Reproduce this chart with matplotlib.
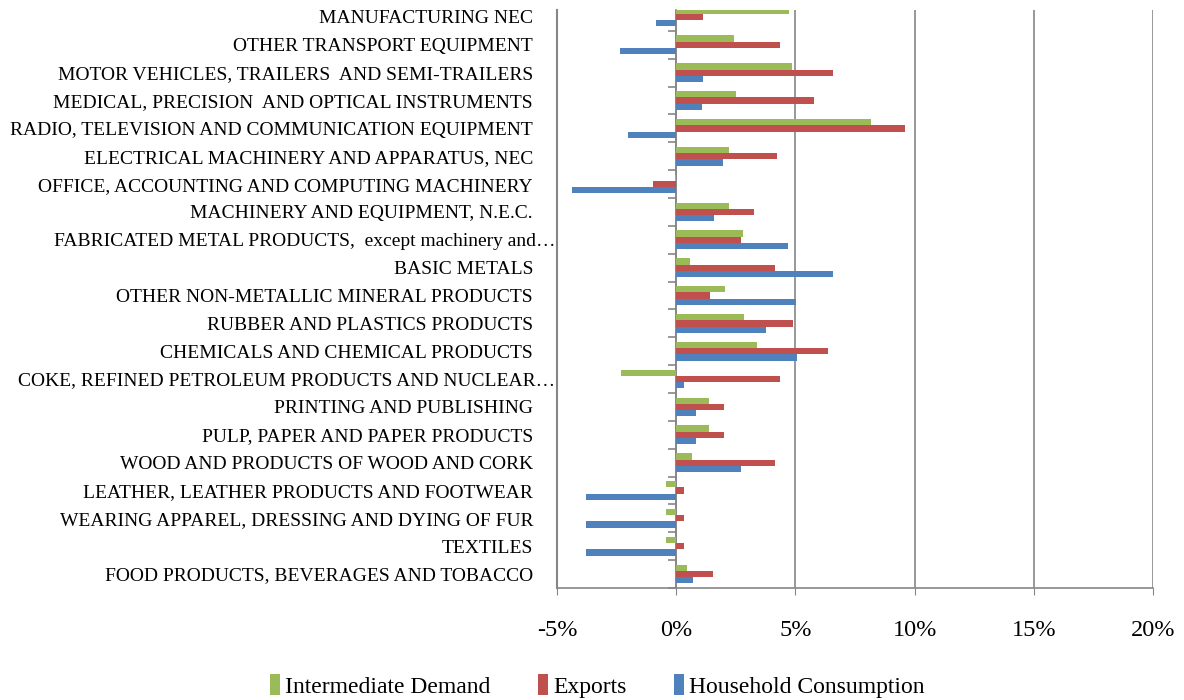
import numpy as np
import matplotlib
matplotlib.use("Agg")
import matplotlib.pyplot as plt
import matplotlib.transforms as mtransforms
from matplotlib.ticker import FuncFormatter
from matplotlib.patches import Patch

# Sectors, listed top to bottom as in the chart
sectors = [
    "MANUFACTURING NEC",
    "OTHER TRANSPORT EQUIPMENT",
    "MOTOR VEHICLES, TRAILERS  AND SEMI-TRAILERS",
    "MEDICAL, PRECISION  AND OPTICAL INSTRUMENTS",
    "RADIO, TELEVISION AND COMMUNICATION EQUIPMENT",
    "ELECTRICAL MACHINERY AND APPARATUS, NEC",
    "OFFICE, ACCOUNTING AND COMPUTING MACHINERY",
    "MACHINERY AND EQUIPMENT, N.E.C.",
    "FABRICATED METAL PRODUCTS,  except machinery and\u2026",
    "BASIC METALS",
    "OTHER NON-METALLIC MINERAL PRODUCTS",
    "RUBBER AND PLASTICS PRODUCTS",
    "CHEMICALS AND CHEMICAL PRODUCTS",
    "COKE, REFINED PETROLEUM PRODUCTS AND NUCLEAR\u2026",
    "PRINTING AND PUBLISHING",
    "PULP, PAPER AND PAPER PRODUCTS",
    "WOOD AND PRODUCTS OF WOOD AND CORK",
    "LEATHER, LEATHER PRODUCTS AND FOOTWEAR",
    "WEARING APPAREL, DRESSING AND DYING OF FUR",
    "TEXTILES",
    "FOOD PRODUCTS, BEVERAGES AND TOBACCO",
]

# values in percent
intermediate = [4.75, 2.41, 4.86, 2.49, 8.18, 2.20, -0.06, 2.20, 2.79, 0.57, 2.06,
                2.83, 3.37, -2.31, 1.36, 1.36, 0.65, -0.43, -0.43, -0.43, 0.45]
exports = [1.11, 4.37, 6.59, 5.79, 9.61, 4.21, -0.97, 3.27, 2.70, 4.16, 1.41,
           4.90, 6.38, 4.37, 1.99, 1.99, 4.16, 0.33, 0.33, 0.33, 1.53]
household = [-0.85, -2.37, 1.11, 1.07, -2.02, 1.95, -4.37, 1.57, 4.67, 6.59, 5.01,
             3.75, 5.08, 0.33, 0.82, 0.82, 2.70, -3.77, -3.77, -3.77, 0.70]

series_names = ["Intermediate Demand", "Exports", "Household Consumption"]
colors = ["#9BBB59", "#C0504D", "#4F81BD"]
grid_color = "#868686"

plt.rcParams['font.family'] = ['Liberation Serif', 'DejaVu Serif']

fig = plt.figure(figsize=(11.84, 7.0), dpi=100)
ax = fig.add_axes([557 / 1184, 1 - 588 / 700, (1153 - 557) / 1184, (588 - 10) / 700])

n = len(sectors)
y = np.arange(n)[::-1]  # top sector gets the highest position
h = 0.225

ax.barh(y + h, intermediate, height=h, color=colors[0], zorder=3)
ax.barh(y, exports, height=h, color=colors[1], zorder=3)
ax.barh(y - h, household, height=h, color=colors[2], zorder=3)

ax.set_xlim(-5, 20)
ax.set_ylim(-0.5, n - 1 + 0.25)
ax.set_xticks([-5, 0, 5, 10, 15, 20])
ax.xaxis.set_major_formatter(FuncFormatter(lambda v, p: f"{v:.0f}%"))
ax.tick_params(axis='x', length=5, color=grid_color, labelsize=17.5, pad=18)
ax.xaxis.grid(True, color=grid_color, linewidth=1.2, zorder=0)

# category labels; truncated ones run a bit further right, like the original
ax.set_yticks(y)
ax.set_yticklabels([])
ax.tick_params(axis='y', length=0)
lab_trans = mtransforms.blended_transform_factory(fig.transFigure, ax.transData)
for yi, name in zip(y, sectors):
    right = 555 if name.endswith("\u2026") else 533
    ax.text(right / 1184, yi, name, transform=lab_trans, ha='right',
            va='center_baseline', fontsize=14, clip_on=False)

for s in ['top', 'right']:
    ax.spines[s].set_visible(False)
ax.spines['bottom'].set_color(grid_color)
ax.spines['bottom'].set_linewidth(1.2)
ax.spines['left'].set_color(grid_color)
ax.spines['left'].set_linestyle((0, (2, 1)))
ax.spines['left'].set_linewidth(1.5)

# vertical category axis crossing at 0%
sec = ax.secondary_yaxis(5 / 25)
sec.set_yticks(np.arange(-0.5, n, 1.0))
sec.set_yticklabels([])
sec.tick_params(length=6, color=grid_color, width=1.2)
sec.spines['left'].set_color(grid_color)
sec.spines['left'].set_linewidth(1.2)

handles = [Patch(facecolor=c, label=lab) for c, lab in zip(colors, series_names)]
fig.legend(handles=handles, loc='center', bbox_to_anchor=(597 / 1184, 1 - 686 / 700),
           ncol=3, frameon=False, fontsize=17, handlelength=0.45, handleheight=1.0,
           handletextpad=0.2, columnspacing=2.0)

fig.savefig("out.png", dpi=100)
